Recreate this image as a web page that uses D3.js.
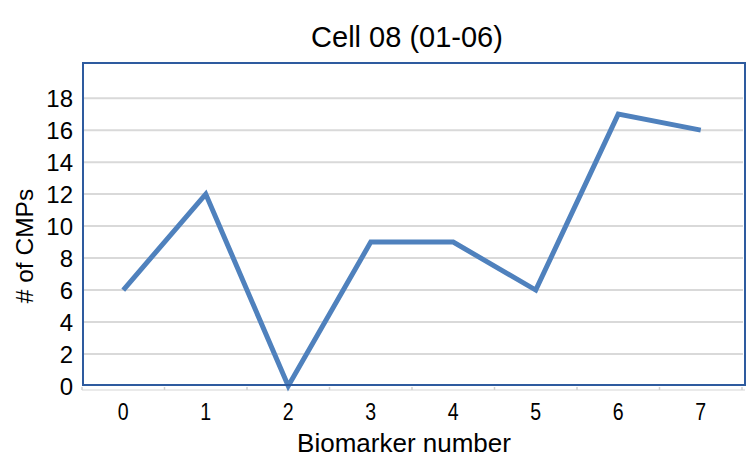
<!DOCTYPE html>
<html>
<head>
<meta charset="utf-8">
<script src="https://cdn.jsdelivr.net/npm/d3@7"></script>
<style>
  body { margin: 0; background: #fff; }
  svg { display: block; font-family: Arial, "Liberation Sans", sans-serif; }
</style>
</head>
<body>
<svg id="chart" width="756" height="471"></svg>
<script>
const categories = ["0", "1", "2", "3", "4", "5", "6", "7"];
const values = [6, 12, 0, 9, 9, 6, 17, 16];
const yTicks = [0, 2, 4, 6, 8, 10, 12, 14, 16, 18];
const title = "Cell 08 (01-06)";
const xTitle = "Biomarker number";
const yTitle = "# of CMPs";

const svg = d3.select("#chart");
const plot = { left: 83, right: 745, top: 63, bottom: 386 };

const x = d3.scaleBand().domain(categories).range([82, 742]).padding(0);
const y = d3.scaleLinear().domain([0, 20.2]).range([plot.bottom, plot.top]);

// gridlines
svg.append("g").selectAll("line").data(yTicks.filter(d => d > 0)).join("line")
  .attr("x1", plot.left).attr("x2", plot.right - 2)
  .attr("y1", d => y(d)).attr("y2", d => y(d))
  .attr("stroke", "#d9d9d9").attr("stroke-width", 2);

// x axis light line with ticks
const xAxis = svg.append("g").attr("transform", `translate(0,${plot.bottom + 4})`);
xAxis.append("line").attr("x1", 82).attr("x2", plot.right)
  .attr("stroke", "#e3e3e3").attr("stroke-width", 1.5);
const bounds = categories.map(c => x(c)).concat([x(categories[categories.length - 1]) + x.bandwidth()]);
xAxis.selectAll("line.tk").data(bounds).join("line").attr("class", "tk")
  .attr("x1", d => d).attr("x2", d => d).attr("y1", -3).attr("y2", 0)
  .attr("stroke", "#d0d0d0").attr("stroke-width", 1.5);

// line
const line = d3.line()
  .x((d, i) => x(categories[i]) + x.bandwidth() / 2)
  .y(d => y(d));
svg.append("path").datum(values)
  .attr("d", line)
  .attr("fill", "none")
  .attr("stroke", "#4f81bd")
  .attr("stroke-width", 5)
  .attr("stroke-linejoin", "miter")
  .attr("stroke-linecap", "butt");

// frame
svg.append("rect")
  .attr("x", plot.left).attr("y", plot.top)
  .attr("width", plot.right - plot.left).attr("height", plot.bottom - plot.top - 1)
  .attr("fill", "none").attr("stroke", "#2e5b9f").attr("stroke-width", 2);

// y tick labels
svg.append("g").selectAll("text").data(yTicks).join("text")
  .attr("x", 73).attr("y", d => y(d))
  .attr("dy", "0.38em")
  .attr("text-anchor", "end")
  .attr("font-size", 24)
  .attr("fill", "#000")
  .text(d => d);

// x tick labels
svg.append("g").selectAll("text").data(categories).join("text")
  .attr("transform", d => `translate(${x(d) + x.bandwidth() / 2},420) scale(0.85,1)`)
  .attr("text-anchor", "middle")
  .attr("font-size", 23)
  .attr("fill", "#000")
  .text(d => d);

// titles
svg.append("text").attr("x", 407).attr("y", 47).attr("text-anchor", "middle")
  .attr("font-size", 29).attr("fill", "#000").text(title);
svg.append("text").attr("x", 404).attr("y", 452).attr("text-anchor", "middle")
  .attr("font-size", 26).attr("fill", "#000").text(xTitle);
svg.append("text").attr("transform", "translate(33,246) rotate(-90)")
  .attr("text-anchor", "middle")
  .attr("font-size", 24.5).attr("fill", "#000").text(yTitle);
</script>
</body>
</html>
